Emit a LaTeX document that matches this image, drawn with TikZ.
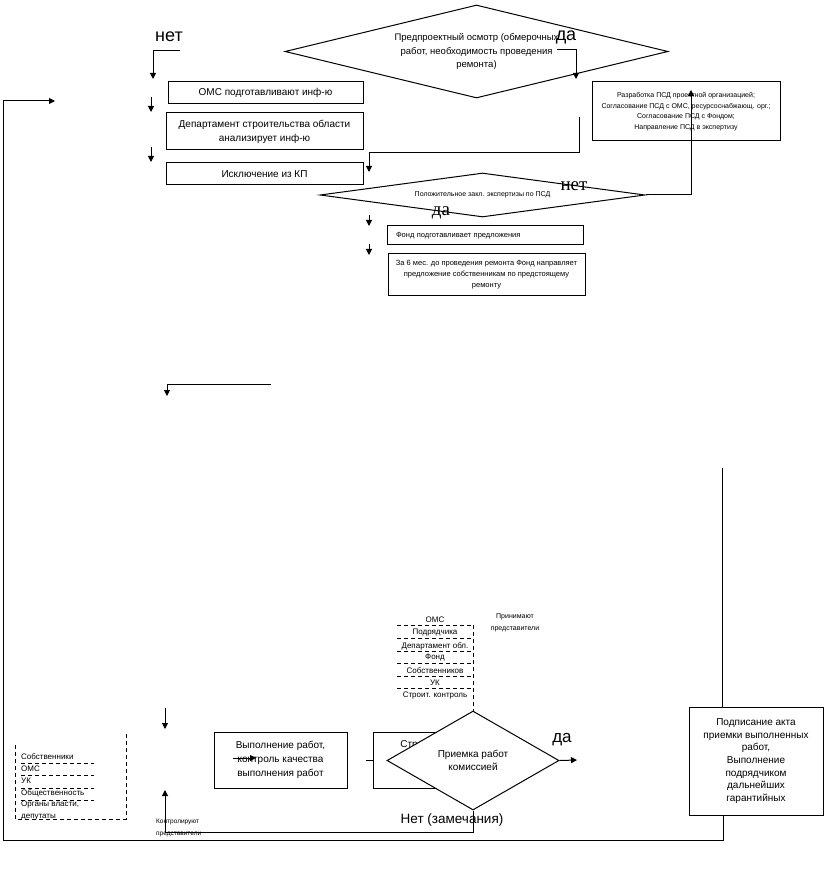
\documentclass[tikz,border=0pt]{standalone}
\usepackage{fontspec}
\setmainfont{Liberation Sans}
\newfontfamily\serifnet{Liberation Serif}
\usetikzlibrary{shapes.geometric,arrows.meta}
\newcommand{\fsz}[2]{\fontsize{#1}{#2}\selectfont}
\begin{document}
\begin{tikzpicture}[x=1pt,y=-1pt,
  every node/.style={inner sep=0pt},
  line/.style={line width=1pt},
  arr/.style={line width=1pt,-{Triangle[length=6pt,width=6pt]}},
  box/.style={draw,line width=1pt,rectangle,align=center},
  dia/.style={draw,line width=1pt,diamond,align=center},
  dsh/.style={line width=1pt,dash pattern=on 4pt off 3pt},
  big/.style={font=\fsz{18}{18}},
  bigser/.style={font=\serifnet\fsz{19}{19}}]
\useasboundingbox (0,0) rectangle (830,890);

% ---- top part ----
\node[dia,aspect=4,minimum width=383pt,minimum height=93pt,font=\fsz{9.5}{13.5}] (d1) at (476.5,51.5)
  {Предпроектный осмотр (обмерочных\\работ, необходимость проведения\\ремонта)};
\node[big] (lnet1) at (169,37) {нет};
\node[big] (lda1) at (566,37) {да};

\node[box,minimum width=195pt,minimum height=22pt,font=\fsz{10}{12}] (b1) at (265.5,93) {ОМС подготавливают инф-ю};
\node[box,minimum width=197pt,minimum height=37pt,font=\fsz{10}{14}] (b2) at (264.5,131.5) {Департамент строительства области\\анализирует инф-ю};
\node[box,minimum width=197pt,minimum height=22pt,font=\fsz{10}{12}] (b3) at (264.5,174) {Исключение из КП};

\node[box,minimum width=188pt,minimum height=59pt,font=\fsz{7}{10.5}] (psd) at (686,111.5)
  {Разработка ПСД проектной организацией;\\Согласование ПСД с ОМС, ресурсоснабжающ. орг.;\\Согласование ПСД с Фондом;\\Направление ПСД в экспертизу};

\node[dia,aspect=7,minimum width=325pt,minimum height=44pt,font=\fsz{7}{9}] (d2) at (482.5,195) {Положительное закл. экспертизы по ПСД};
\node[bigser] (lnet2) at (574,186) {нет};
\node[bigser] (lda2) at (441,213) {да};

\node[box,minimum width=196pt,minimum height=19pt,text width=178pt,align=left,font=\fsz{7.5}{9}] (f1) at (485,235.5) {Фонд подготавливает предложения};
\node[box,minimum width=197pt,minimum height=41pt,font=\fsz{7.5}{11}] (f2) at (486.5,274.5)
  {За 6 мес. до проведения ремонта Фонд направляет\\предложение собственникам по предстоящему\\ремонту};

% ---- top connectors ----
\coordinate (n1s) at (180,51);  \coordinate (n1e) at (153,79);
\draw[arr] (n1s) -| (n1e);
\coordinate (a1s) at (151,97);  \coordinate (a1e) at (151,112);
\draw[arr] (a1s) -- (a1e);
\coordinate (a2s) at (151,147); \coordinate (a2e) at (151,162);
\draw[arr] (a2s) -- (a2e);
\coordinate (da1s) at (557,50); \coordinate (da1e) at (576,79);
\draw[arr] (da1s) -| (da1e);
\coordinate (e1s) at (579,117); \coordinate (e1m) at (579,153); \coordinate (e1e) at (369,172);
\draw[arr] (e1s) -- (e1m) -| (e1e);
\coordinate (pm) at (691,90);
\draw[arr] (d2.east) -| (pm);
\coordinate (y1s) at (369,215); \coordinate (y1e) at (369,226);
\draw[arr] (y1s) -- (y1e);
\coordinate (y2s) at (369,244); \coordinate (y2e) at (369,255);
\draw[arr] (y2s) -- (y2e);
\coordinate (h1s) at (271,384); \coordinate (h1e) at (167,396);
\draw[arr] (h1s) -| (h1e);

% ---- bottom part ----
\foreach \t/\yy [count=\i] in {ОМС/620,Подрядчика/633,{Департамент обл.}/646,Фонд/658,Собственников/671,УК/683,{Строит. контроль}/696}
  \node[font=\fsz{8}{8}] (s\i) at (435,\yy) {\t};
\foreach \yy in {625,638,651,663,676,688}
  \draw[dsh] (397,\yy) -- (473,\yy);
\node[font=\fsz{7}{12},align=center] (prin) at (515,623) {Принимают\\представители};

\node[box,minimum width=133pt,minimum height=56pt,font=\fsz{10}{14}] (work) at (280.5,760)
  {Выполнение работ,\\контроль качества\\выполнения работ};
\node[box,minimum width=97pt,minimum height=56pt] (str) at (421.5,760) {};
\node[font=\fsz{10}{12}] (strl) at (409,745) {Стр};
\coordinate (sts) at (366,760);
\draw[line] (sts) -- (str.west);

\node[dia,aspect=1.7,fill=white,minimum width=172pt,minimum height=99pt,font=\fsz{10}{13}] (d3) at (473,760.5)
  {Приемка работ\\комиссией};
\node[font=\fsz{17}{17}] (lda3) at (562,740) {да};
\node[font=\fsz{13.5}{13.5}] (lnet3) at (452,820) {Нет (замечания)};

\node[box,minimum width=134pt,minimum height=108pt,font=\fsz{10}{12.6}] (act) at (756,761)
  {Подписание акта\\приемки выполненных\\работ,\\Выполнение\\подрядчиком\\дальнейших\\гарантийных};

% left dashed list
\draw[dsh] (15,745) -- (15,819) -- (126,819) -- (126,733);
\foreach \t/\yy [count=\i] in {Собственники/757,ОМС/769,УК/781,Общественность/793,{Органы власти,}/805,депутаты/817}
  \node[font=\fsz{8}{8},anchor=west] (o\i) at (21,\yy) {\t};
\foreach \yy in {763,775,788,800}
  \draw[dsh] (21,\yy) -- (94,\yy);
\node[font=\fsz{6.5}{12},align=left,anchor=west] (kontr) at (156,828) {Контролируют\\представители};

% ---- bottom connectors ----
\coordinate (stk) at (473,625);
\draw[dsh] (stk) -- (d3.north);
\coordinate (dae) at (577,760);
\draw[arr] (d3.east) -- (dae);
\coordinate (nb) at (165,790);
\draw[arr] (d3.south) -- ++(0,22) -| (nb);
\coordinate (w1s) at (165,708); \coordinate (w1e) at (165,729);
\draw[arr] (w1s) -- (w1e);
\coordinate (wa) at (233,758); \coordinate (wb) at (256,758);
\draw[arr] (wa) -- (wb);
\coordinate (rt) at (722.5,468);
\draw[line] (rt) -- ([xshift=-33.5pt]act.north);
\coordinate (lb) at (3,840); \coordinate (lt) at (3,101); \coordinate (le) at (55,101);
\draw[arr] ([xshift=-33pt]act.south) |- (lb) -- (lt) -- (le);
\end{tikzpicture}
\end{document}
